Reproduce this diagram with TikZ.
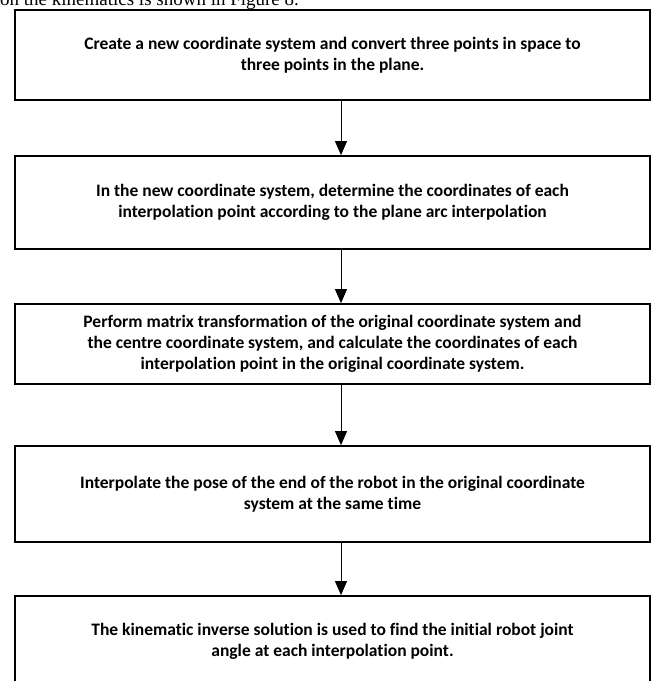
\documentclass[tikz,border=0pt]{standalone}
\usepackage{fontspec}
\setmainfont{Carlito}[Ligatures={NoCommon}]
\newfontfamily\bodyserif{Liberation Serif}
\usetikzlibrary{arrows.meta}

\tikzset{
  stage/.style={draw, line width=1.8pt, minimum width=635pt, inner sep=0pt, align=center,
    font=\bfseries\fontsize{17.5}{21}\selectfont},
  flow/.style={-{Triangle[length=14pt,width=12pt]}, line width=0.9pt}
}

\begin{document}
\begin{tikzpicture}[x=1pt, y=-1pt]
  \useasboundingbox (0,0) rectangle (654,681);
  % line of the page above the figure, cut by the frame
  \node[anchor=base west, inner sep=0pt, font=\bodyserif\fontsize{19}{23}\selectfont] (lead) at (0,5)
    {on the kinematics is shown in Figure 8.};

  \node[stage, minimum height=90pt] (create) at (332.5,55)
    {Create a new coordinate system and convert three points in space to\\three points in the plane.};
  \node[stage, minimum height=93pt] (arcpts) at (332.5,202.5)
    {In the new coordinate system, determine the coordinates of each\\interpolation point according to the plane arc interpolation};
  \node[stage, minimum height=80pt] (matrix) at (332.5,344)
    {Perform matrix transformation of the original coordinate system and\\the centre coordinate system, and calculate the coordinates of each\\interpolation point in the original coordinate system.};
  \node[stage, minimum height=96pt] (pose) at (332.5,494)
    {Interpolate the pose of the end of the robot in the original coordinate\\system at the same time};
  \node[stage, minimum height=90pt] (inverse) at (332.5,641)
    {The kinematic inverse solution is used to find the initial robot joint\\angle at each interpolation point.};

  \coordinate (axis) at (341,0);
  \draw[flow] (create.south -| axis) -- (arcpts.north -| axis);
  \draw[flow] (arcpts.south -| axis) -- (matrix.north -| axis);
  \draw[flow] (matrix.south -| axis) -- (pose.north -| axis);
  \draw[flow] (pose.south -| axis) -- (inverse.north -| axis);
\end{tikzpicture}
\end{document}
